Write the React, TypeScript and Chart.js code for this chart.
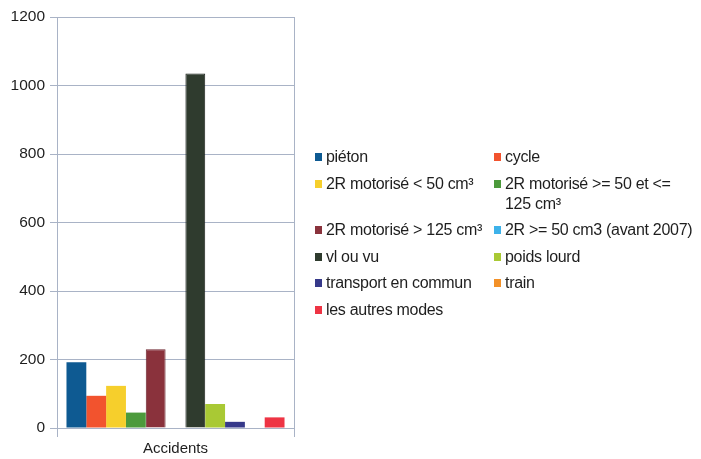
import React, { useEffect, useRef } from "react";
import { Chart, registerables } from "chart.js";

Chart.register(...registerables);

const categories: string[] = ["Accidents"];
const seriesNames: string[] = [
  "piéton",
  "cycle",
  "2R motorisé < 50 cm³",
  "2R motorisé >= 50 et <=\n125 cm³",
  "2R motorisé > 125 cm³",
  "2R >= 50 cm3 (avant 2007)",
  "vl ou vu",
  "poids lourd",
  "transport en commun",
  "train",
  "les autres modes",
];
const seriesValues: number[] = [192, 94, 123, 45, 230, 0, 1035, 70, 18, 0, 31];
const seriesColors: string[] = [
  "#0e5a92",
  "#f2532e",
  "#f6cf2c",
  "#4c9a3c",
  "#8a323c",
  "#3db2ea",
  "#2f3b2e",
  "#a9c934",
  "#36398a",
  "#f39128",
  "#ee3444",
];
const seriesBorders: string[] = [
  "#0e5a92",
  "#f2532e",
  "#f6cf2c",
  "#4c9a3c",
  "#6e2630",
  "#3db2ea",
  "#1a211a",
  "#a9c934",
  "#36398a",
  "#f39128",
  "#ee3444",
];
const yTicks: number[] = [0, 200, 400, 600, 800, 1000, 1200];

const FONT = '"Liberation Sans", Arial, sans-serif';
const GRID = "#a9b3c6";

export default function App() {
  const canvasRef = useRef<HTMLCanvasElement | null>(null);

  useEffect(() => {
    const canvas = canvasRef.current;
    if (!canvas) return;
    const chart = new Chart(canvas, {
      type: "bar",
      data: {
        labels: categories,
        datasets: seriesNames.map((name, i) => ({
          label: name.replace("\n", " "),
          data: [seriesValues[i]],
          backgroundColor: seriesColors[i],
          borderColor: seriesBorders[i],
          borderWidth: i === 6 || i === 4 ? 1 : 0,
        })),
      },
      options: {
        responsive: false,
        maintainAspectRatio: false,
        animation: false,
        layout: { padding: { left: 0, top: 17, right: 407, bottom: 0 } },
        datasets: {
          bar: { categoryPercentage: 0.92, barPercentage: 1 },
        },
        plugins: {
          legend: { display: false },
          tooltip: { enabled: false },
        },
        scales: {
          x: {
            offset: true,
            grid: {
              display: true,
              offset: true,
              color: GRID,
              lineWidth: 1,
              tickLength: 9,
              drawTicks: true,
            },
            border: { display: true, color: GRID },
            ticks: {
              color: "#1e1e1e",
              font: { family: FONT, size: 15 },
              padding: 3,
            },
            afterFit: (scale: any) => {
              scale.height = 31;
            },
          },
          y: {
            min: 0,
            max: 1200,
            afterBuildTicks: (scale: any) => {
              scale.ticks = yTicks.map((v) => ({ value: v }));
            },
            grid: {
              color: GRID,
              lineWidth: 1,
              tickLength: 7,
            },
            border: { display: true, color: GRID },
            ticks: {
              color: "#1e1e1e",
              font: { family: FONT, size: 15.5 },
              padding: 5,
              callback: (v: any) => String(v),
            },
            afterFit: (scale: any) => {
              scale.width = 57;
            },
          },
        },
      },
    });
    return () => chart.destroy();
  }, []);

  return (
    <div
      style={{
        position: "fixed",
        left: 0,
        top: 0,
        width: 701,
        height: 459,
        background: "#ffffff",
        fontFamily: FONT,
      }}
    >
      <canvas
        ref={canvasRef}
        width={701}
        height={459}
        style={{ position: "absolute", left: 0, top: 0, width: 701, height: 459 }}
      />
      <div
        style={{
          position: "absolute",
          left: 315,
          top: 147,
          display: "grid",
          gridTemplateColumns: "179px 200px",
          rowGap: "6.5px",
          fontSize: 16,
          letterSpacing: "-0.3px",
          lineHeight: "20px",
          color: "#1e1e1e",
        }}
      >
        {seriesNames.map((name, i) => (
          <div key={i} style={{ display: "flex", alignItems: "flex-start" }}>
            <span
              style={{
                display: "inline-block",
                width: 7,
                height: 8,
                marginTop: 6,
                marginRight: 4,
                background: seriesColors[i],
                flex: "0 0 auto",
              }}
            />
            <span style={{ whiteSpace: "pre" }}>{name}</span>
          </div>
        ))}
      </div>
    </div>
  );
}
